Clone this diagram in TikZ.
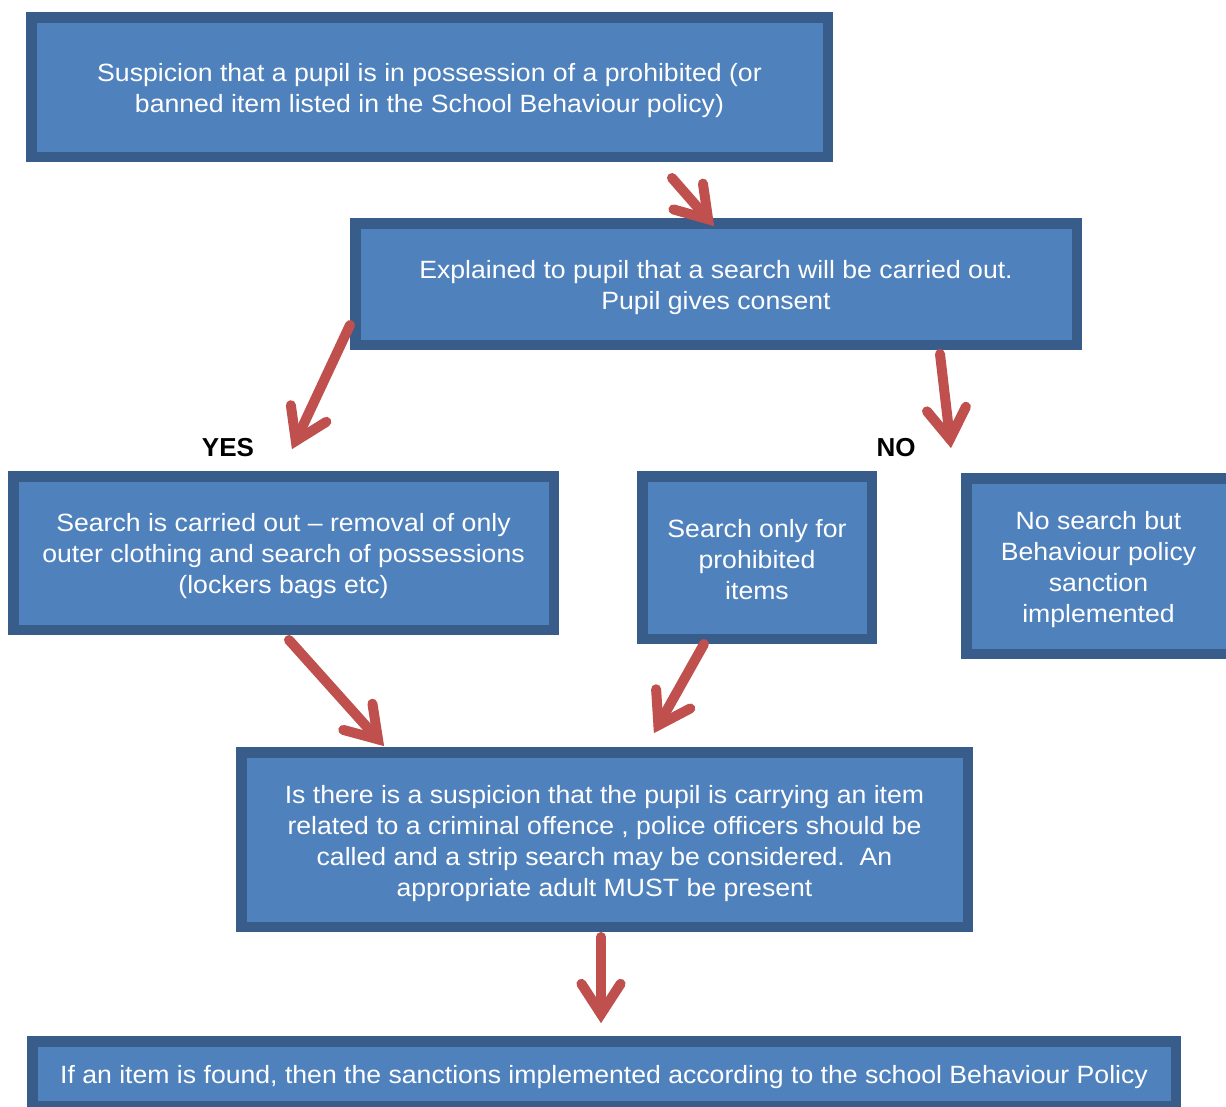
\documentclass[tikz,border=0pt]{standalone}
\usepackage{fontspec}
\setmainfont{Liberation Sans}
\newfontfamily\boxfont[FakeStretch=1.065,Ligatures=TeX]{Liberation Sans}
\usetikzlibrary{calc}
\definecolor{boxfill}{HTML}{4F81BD}
\definecolor{boxedge}{HTML}{385D8A}
\definecolor{arrred}{HTML}{C0504D}
\tikzset{
  flowbox/.style={draw=boxedge, fill=boxfill, line width=10.5pt, inner sep=0pt},
  boxtext/.style={text=white, align=center, inner sep=0pt,
    font=\boxfont\fontsize{25}{31}\selectfont},
  arrline/.style={draw=arrred, line width=10pt, line cap=round},
  answer/.style={font=\bfseries\fontsize{26}{30}\selectfont, text=black}
}
\newcommand\redarrow[2]{%
  \draw[arrline] (#1) -- ($(#2)!9pt!(#1)$);
  \draw[arrline, line join=miter]
    ($(#2)!9pt!(#1)!36pt!33:(#1)$) -- ($(#2)!9pt!(#1)$) -- ($(#2)!9pt!(#1)!36pt!-33:(#1)$);
}
\begin{document}
\begin{tikzpicture}[x=1pt,y=-1pt]
\clip (0,0) rectangle (1226,1106);
\fill[white] (0,0) rectangle (1226,1106);

\node[flowbox, minimum width=796.5pt, minimum height=139.5pt] (b1) at (429.5,87) {};
\node[boxtext] (t1) at ($(b1.center)+(0,4)$)
  {Suspicion that a pupil is in possession of a prohibited (or\\banned item listed in the School Behaviour policy)};
\node[flowbox, minimum width=721.5pt, minimum height=121.5pt] (b2) at (716,284) {};
\node[boxtext] (t2) at ($(b2.center)+(0,4)$)
  {Explained to pupil that a search will be carried out.\\Pupil gives consent};
\node[flowbox, minimum width=540.5pt, minimum height=153.5pt] (b3) at (283.5,553) {};
\node[boxtext] (t3) at ($(b3.center)+(0,3)$)
  {Search is carried out – removal of only\\outer clothing and search of possessions\\(lockers bags etc)};
\node[flowbox, minimum width=229.5pt, minimum height=162.5pt] (b4) at (757,557.5) {};
\node[boxtext] (t4) at ($(b4.center)+(0,2)$)
  {Search only for\\prohibited\\items};
\node[flowbox, minimum width=264.5pt, minimum height=175.5pt] (b5) at (1098.5,566) {};
\node[boxtext] (t5) at ($(b5.center)+(0,4)$)
  {No search but\\Behaviour policy\\sanction\\implemented};
\node[flowbox, minimum width=726.5pt, minimum height=174.5pt] (b6) at (604.5,839.5) {};
\node[boxtext] (t6) at ($(b6.center)+(0,4)$)
  {Is there is a suspicion that the pupil is carrying an item\\related to a criminal offence , police officers should be\\called and a strip search may be considered.\ \ An\\appropriate adult MUST be present};
\node[flowbox, minimum width=1143.5pt, minimum height=64.5pt] (b7) at (604,1073.5) {};
\node[boxtext] (t7) at ($(b7.center)+(0,4)$)
  {If an item is found, then the sanctions implemented according to the school Behaviour Policy};

\node[answer] (yes) at (228,448) {YES};
\node[answer] (no) at (896,448) {NO};

\coordinate (a1s) at (672,178); \coordinate (a1t) at (714,226);
\coordinate (a2s) at (350,325); \coordinate (a2t) at (292,449);
\coordinate (a3s) at (940,354); \coordinate (a3t) at (951,448);
\coordinate (a4s) at (289,640); \coordinate (a4t) at (384,746);
\coordinate (a5s) at (704,644); \coordinate (a5t) at (654,733);
\coordinate (a6s) at (601,937); \coordinate (a6t) at (601,1023);
\redarrow{a1s}{a1t}
\redarrow{a2s}{a2t}
\redarrow{a3s}{a3t}
\redarrow{a4s}{a4t}
\redarrow{a5s}{a5t}
\redarrow{a6s}{a6t}
\end{tikzpicture}
\end{document}
